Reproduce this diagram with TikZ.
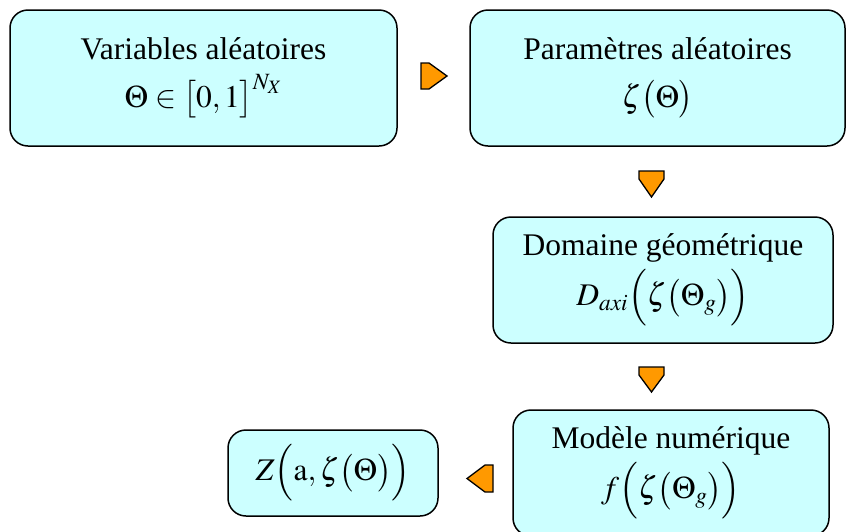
\documentclass[tikz,border=0pt]{standalone}
\usepackage{mathptmx}
\usepackage[no-math]{fontspec}
\setmainfont{Liberation Serif}
\definecolor{boxfill}{HTML}{CCFFFF}
\definecolor{arrfill}{HTML}{FF9900}
\begin{document}
\begin{tikzpicture}[x=1pt,y=-1pt,
  box/.style={draw=black, line width=1.5pt, fill=boxfill, rounded corners=18pt,
    align=center, inner sep=0pt, font=\fontsize{31.5}{48}\selectfont},
  flow/.style={draw=black, line width=1.3pt, fill=arrfill, line join=miter}]
\useasboundingbox (0,0) rectangle (846,531);
\clip (0,0) rectangle (846,531);
\node[box, minimum width=387pt, minimum height=136pt] (var) at (203.5,78)
  {Variables aléatoires\\ $\Theta\in\bigl[0,1\bigr]^{N_X}$};
\node[box, minimum width=375pt, minimum height=136pt] (par) at (657.5,78)
  {Paramètres aléatoires\\ $\zeta\bigl(\Theta\bigr)$};
\node[box, minimum width=340pt, minimum height=126pt] (dom) at (663,280)
  {Domaine géométrique\\[2pt] $D_{axi}\Bigl(\zeta\bigl(\Theta_{g}\bigr)\Bigr)$};
\node[box, minimum width=316pt, minimum height=126pt] (mod) at (671,473)
  {Modèle numérique\\[2pt] $f\Bigl(\zeta\bigl(\Theta_{g}\bigr)\Bigr)$};
\node[box, minimum width=210pt, minimum height=86pt] (res) at (333,473)
  {$Z\Bigl(\mathrm{a},\zeta\bigl(\Theta\bigr)\Bigr)$};
% flow arrows
\draw[flow] (421,63) -- (429,63) -- (447,76) -- (429,89) -- (421,89) -- cycle;
\draw[flow] (639,171) -- (664,171) -- (664,179) -- (651.5,197) -- (639,179) -- cycle;
\draw[flow] (639,367) -- (664,367) -- (664,375) -- (651.5,392) -- (639,375) -- cycle;
\draw[flow] (493,465) -- (493,492) -- (485,492) -- (467,478.5) -- (485,465) -- cycle;
\end{tikzpicture}
\end{document}
